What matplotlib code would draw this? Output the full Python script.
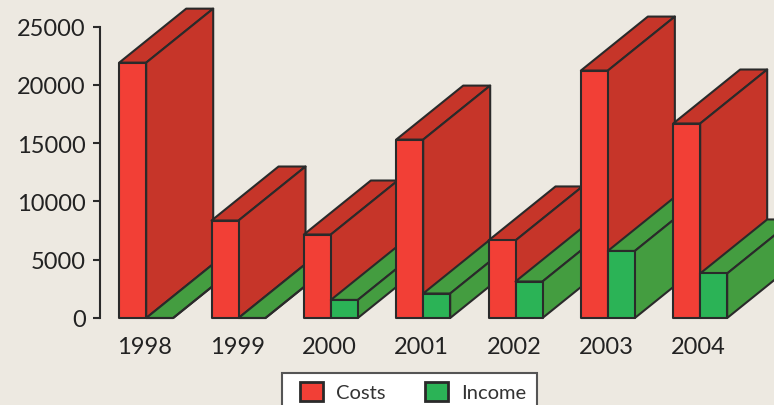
import numpy as np
from matplotlib import pyplot as plt
from matplotlib.patches import Patch, Polygon, Rectangle
from matplotlib.transforms import ScaledTranslation

years = ['1998', '1999', '2000', '2001', '2002', '2003', '2004']
costs = [21900, 8360, 7160, 15300, 6650, 21220, 16680]
income = [0, 0, 1550, 2100, 3130, 5750, 3820]

bg = '#EDE9E1'
edge = '#2A2A2A'
cost_front, cost_side = '#F23F36', '#C63529'
income_front, income_side = '#2BB356', '#449D40'

W, H = 774, 406
plt.rcParams['font.family'] = ['Lato', 'DejaVu Sans']

fig = plt.figure(figsize=(W / 100, H / 100), dpi=100, facecolor=bg)
ax = fig.add_axes([99.5 / W, 1 - 319 / H, (W - 99.5) / W, (319 - 27.5) / H])
ax.set_facecolor('none')

step = 92.33  # px per category
first = 146.2  # px of first category
ax.set_xlim((99.5 - first) / step, (W - first) / step)
ax.set_ylim(0, 25000)

bar_w = 27 / step
dx = 67 / step
dy = 54 / ((319 - 27.5) / 25000)


def box(x, w, h, front, side):
    pts = [
        ([(x, h), (x + w, h), (x + w + dx, h + dy), (x + dx, h + dy)], side),
        ([(x + w, 0), (x + w + dx, dy), (x + w + dx, h + dy), (x + w, h)], side),
        ([(x, 0), (x + w, 0), (x + w, h), (x, h)], front),
    ]
    for xy, col in pts:
        ax.add_patch(Polygon(xy, closed=True, facecolor=col, edgecolor=edge,
                             lw=1.5, joinstyle='round', clip_on=False))


for i in range(len(years)):
    box(i - bar_w, bar_w, costs[i], cost_front, cost_side)
    box(i, bar_w, income[i], income_front, income_side)

for s in ['top', 'right', 'bottom']:
    ax.spines[s].set_visible(False)
ax.spines['left'].set_color(edge)
ax.spines['left'].set_linewidth(1.5)

ax.set_yticks(np.arange(0, 25001, 5000))
ax.set_xticks(np.arange(len(years)))
ax.set_xticklabels(years)
ax.tick_params(axis='y', length=5, width=1.5, color=edge, pad=5, labelsize=17, labelcolor='#222222')
ax.tick_params(axis='x', length=0, pad=13, labelsize=17, labelcolor='#222222')
# labels sit slightly left of the bar join
shift = ScaledTranslation(-1.5 / 100, 0, fig.dpi_scale_trans)
for lab in ax.get_xticklabels():
    lab.set_transform(lab.get_transform() + shift)

fig.add_artist(Rectangle((282 / W, -10 / H), 255 / W, (H - 374 + 10) / H, transform=fig.transFigure,
                         facecolor='white', edgecolor='#555555', lw=1.5))
handles = [Patch(facecolor=cost_front, edgecolor=edge, lw=2, label='Costs'),
           Patch(facecolor=income_front, edgecolor=edge, lw=2, label='Income')]
leg = fig.legend(handles=handles, ncol=2, loc='upper left',
                 bbox_to_anchor=(300 / W, 1 - 382.5 / H), fontsize=14.5,
                 frameon=False, handlelength=1.14, handleheight=1.12,
                 handletextpad=0.65, columnspacing=1.94, borderpad=0, borderaxespad=0)
for t in leg.get_texts():
    t.set_color('#333333')

fig.savefig('out.png', dpi=100, facecolor=bg)
